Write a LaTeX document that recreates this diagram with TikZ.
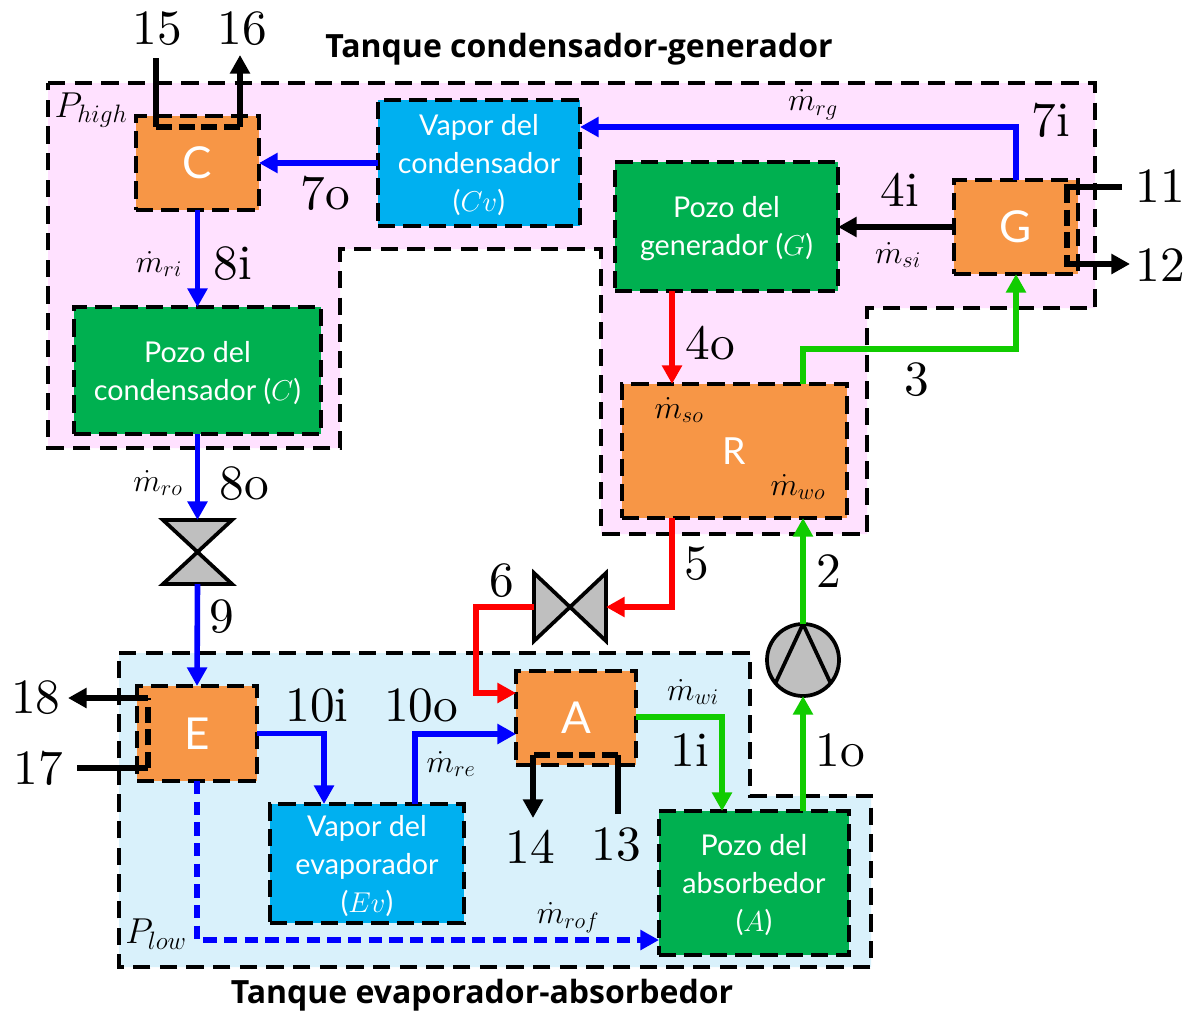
\documentclass[tikz,border=0pt]{standalone}
\usepackage{fix-cm}
\usepackage{fontspec}
\usetikzlibrary{arrows.meta,calc}
\newfontfamily\boxfont{Lato}
\newfontfamily\titlefont{Open Sans}
\newfontfamily\numfont{lmroman10-regular.otf}
\definecolor{tankpink}{HTML}{FFE1FF}
\definecolor{tankblue}{HTML}{D9F1FB}
\definecolor{hxorange}{HTML}{F79646}
\definecolor{wellgreen}{HTML}{00B050}
\definecolor{vapblue}{HTML}{00B0F0}
\definecolor{flowblue}{HTML}{0000FF}
\definecolor{flowred}{HTML}{FF0000}
\definecolor{flowgreen}{HTML}{11CC00}
\definecolor{devgray}{HTML}{BFBFBF}
\newcommand{\bigfs}{\numfont\fontsize{37}{37}\selectfont}
\newcommand{\mfs}{\fontsize{24}{24}\selectfont}
\newcommand{\lowr}{\rule{0pt}{19pt}}
\tikzset{
  x=0.75pt,y=-0.75pt,
  tankline/.style={line width=2.6pt,dash pattern=on 13pt off 7pt},
  unitbox/.style={draw=black,line width=2.8pt,dash pattern=on 13pt off 6pt,inner sep=0pt,outer sep=0pt,text=white,align=center},
  hx/.style={unitbox,fill=hxorange,font=\boxfont\fontsize{33}{33}\selectfont},
  well/.style={unitbox,fill=wellgreen,font=\boxfont\fontsize{21.5}{28.5}\selectfont},
  vapor/.style={unitbox,fill=vapblue,font=\boxfont\fontsize{21.5}{28.5}\selectfont},
  flow/.style={line width=4.2pt,-{Triangle[length=14pt,width=14.5pt]}},
  plainflow/.style={line width=4.2pt},
  fblue/.style={flow,draw=flowblue,color=flowblue},
  fred/.style={flow,draw=flowred,color=flowred},
  fgreen/.style={flow,draw=flowgreen,color=flowgreen},
  fblack/.style={flow,draw=black},
  coilside/.style={line width=4.2pt,dash pattern=on 12pt off 5pt},
  device/.style={draw=black,fill=devgray,line width=2.8pt,line join=miter},
  num/.style={font=\bigfs,inner sep=0pt,text=black},
  sym/.style={font=\mfs,inner sep=0pt,text=black},
  ttl/.style={font=\titlefont\bfseries\fontsize{24}{24}\selectfont,inner sep=0pt,text=black},
  valvebox/.style={inner sep=0pt,outer sep=0pt},
}
\begin{document}
\begin{tikzpicture}
\useasboundingbox (0,0) rectangle (1194,1011);
% tanks
\path[fill=tankpink] (48,83) -- (1095,83) -- (1095,308) -- (867,308) -- (867,534) -- (601,534) -- (601,249) -- (340,249) -- (340,448) -- (48,448) -- cycle;
\draw[tankline] (48,83) -- (1095,83) -- (1095,308) -- (867,308) -- (867,534) -- (601,534) -- (601,249) -- (340,249) -- (340,448) -- (48,448) -- cycle;
\path[fill=tankblue] (119,653) -- (750,653) -- (750,796) -- (871,796) -- (871,967) -- (119,967) -- cycle;
\draw[tankline] (119,653) -- (750,653) -- (750,796) -- (871,796) -- (871,967) -- (119,967) -- cycle;
% units
\node[hx,minimum width=92.25pt,minimum height=70.5pt] (c) at (197.5,163) {C};
\node[vapor,minimum width=151.5pt,minimum height=94.5pt] (cv) at (479,163) {\lowr Vapor del\\condensador\\($Cv$)};
\node[well,minimum width=167.25pt,minimum height=96.75pt] (pg) at (726.5,226.5) {\lowr Pozo del\\generador ($G$)};
\node[hx,minimum width=93pt,minimum height=70.5pt] (g) at (1016,227) {G};
\node[well,minimum width=185.25pt,minimum height=95.25pt] (pc) at (197.5,370.5) {\lowr Pozo del\\condensador ($C$)};
\node[hx,minimum width=168.75pt,minimum height=100.5pt,font=\boxfont\fontsize{28}{28}\selectfont] (r) at (734.5,451) {R};
\node[hx,minimum width=90pt,minimum height=70.5pt] (a) at (576,718) {A};
\node[hx,minimum width=90pt,minimum height=71.25pt] (e) at (197,733.5) {E};
\node[vapor,minimum width=145.5pt,minimum height=89.25pt] (ev) at (367,863.5) {\lowr Vapor del\\evaporador\\($Ev$)};
\node[well,minimum width=142.5pt,minimum height=108pt] (pa) at (754,883) {\lowr Pozo del\\absorbedor\\($A$)};
% valves and pump
\node[valvebox,minimum width=51.75pt,minimum height=48pt] (v1) at (197.5,552) {};
\node[valvebox,minimum width=54pt,minimum height=51pt] (v2) at (570,607) {};
\draw[device] (v1.north west) -- (v1.north east) -- (v1.south west) -- (v1.south east) -- cycle;
\draw[device] (v2.north west) -- (v2.south west) -- (v2.north east) -- (v2.south east) -- cycle;
\node[circle,draw=black,fill=devgray,line width=2.8pt,minimum size=54pt,inner sep=0pt,outer sep=0pt] (p) at (803,660) {};
\draw[line width=2.8pt] (p.220) -- (p.north) -- (p.320);
% ports
\coordinate (cvin) at (cv.east |- 0,127);
\coordinate (cvw) at (cv.west |- c.east);
\coordinate (rin) at (r.north -| 672,0);
\coordinate (rout) at (r.south -| 672,0);
\coordinate (rgo) at (r.north -| 803,0);
\coordinate (rgi) at (r.south -| 803,0);
\coordinate (pge) at (pg.east |- g.west);
\coordinate (ared) at (a.west |- 0,693);
\coordinate (ablue) at (a.west |- 0,734);
\coordinate (agreen) at (a.east |- 0,717);
\coordinate (ebend) at (197,940);
\coordinate (paw) at (pa.west |- ebend);
\coordinate (pagi) at (pa.north -| 722,0);
\coordinate (pago) at (pa.north -| 803,0);
\coordinate (evi) at (ev.north -| 324,0);
\coordinate (evo) at (ev.north -| 415,0);
\coordinate (c15) at (156,58);
\coordinate (c15b) at (156,127);
\coordinate (c16b) at (240,127);
\coordinate (c16) at (240,55);
\coordinate (g11) at (1122,187);
\coordinate (g11b) at (1067,187);
\coordinate (g12b) at (1067,264);
\coordinate (g12) at (1130,264);
\coordinate (e17) at (77,768);
\coordinate (e17b) at (148,768);
\coordinate (e18b) at (148,698);
\coordinate (e18) at (68,698);
\coordinate (a14b) at (533,755);
\coordinate (a14) at (533,818);
\coordinate (a13b) at (618,755);
\coordinate (a13) at (618,814);
% blue circuit
\draw[fblue] (cvw) -- (c.east);
\draw[fblue] (g.north) |- (cvin);
\draw[fblue] (c.south) -- (pc.north);
\draw[fblue] (pc.south) -- (v1.north);
\draw[fblue] (v1.south) -- (e.north);
\draw[fblue] (e.east) -| (evi);
\draw[fblue] (evo) |- (ablue);
\draw[fblue,line width=3.8pt,dash pattern=on 10pt off 5.5pt] (e.south) -- (ebend) -- (paw);
% red circuit
\draw[fred] (pg.south -| rin) -- (rin);
\draw[fred] (rout) |- (v2.east);
\draw[fred] (v2.west) -| (476,650) |- (ared);
% green circuit
\draw[fgreen] (agreen) -| (pagi);
\draw[fgreen] (pago) -- (p.south);
\draw[fgreen] (p.north) -- (rgi);
\draw[fgreen] (rgo) |- ($(g.south)+(0,75)$) -- (g.south);
% black
\draw[fblack] (g.west) -- (pge);
\draw[plainflow] (c15) -- (c15b);
\draw[coilside] (c15b) -- (c16b);
\draw[fblack] (c16b) -- (c16);
\draw[plainflow] (g11) -- (1064,187);
\draw[coilside] (g11b) -- (g12b);
\draw[fblack] (1064,264) -- (g12);
\draw[plainflow] (e17) -- (e17b);
\draw[coilside] (e17b) -- (e18b);
\draw[fblack] (e18b) -- (e18);
\draw[plainflow] (a13) -- (a13b);
\draw[coilside] (a13b) -- (a14b);
\draw[fblack] (a14b) -- (a14);
% titles
\node[ttl] (t1) at (579,49) {Tanque condensador-generador};
\node[ttl] (t2) at (482,995) {Tanque evaporador-absorbedor};
% numbers
\node[num] (n15) at (157,29) {15};
\node[num] (n16) at (242,29) {16};
\node[num] (n7o) at (325,193) {7o};
\node[num] (n7i) at (1051,120) {7i};
\node[num] (n4i) at (900,190) {4i};
\node[num] (n11) at (1160,186) {11};
\node[num] (n12) at (1160,265) {12};
\node[num] (n4o) at (710,343) {4o};
\node[num] (n3) at (917,380) {3};
\node[num] (n8i) at (233,264) {8i};
\node[num] (n8o) at (244,484) {8o};
\node[num] (n9) at (222,617) {9};
\node[num] (n5) at (697,564) {5};
\node[num] (n6) at (502,581) {6};
\node[num] (n2) at (829,571) {2};
\node[num] (n18) at (36,698) {18};
\node[num] (n17) at (38,768) {17};
\node[num] (n10i) at (317,706) {10i};
\node[num] (n10o) at (421,706) {10o};
\node[num] (n1i) at (690,750) {1i};
\node[num] (n1o) at (840,750) {1o};
\node[num] (n14) at (530,847) {14};
\node[num] (n13) at (616,845) {13};
% symbols
\node[sym,font=\fontsize{27}{27}\selectfont] (phigh) at (91,110) {$P_{high}$};
\node[sym,font=\fontsize{27}{27}\selectfont] (plow) at (156,934) {$P_{low}$};
\node[sym] (mrg) at (813,105) {$\dot m_{rg}$};
\node[sym] (msi) at (898,255) {$\dot m_{si}$};
\node[sym] (mso) at (679,410) {$\dot m_{so}$};
\node[sym] (mwo) at (798,487) {$\dot m_{wo}$};
\node[sym] (mri) at (159,264) {$\dot m_{ri}$};
\node[sym] (mro) at (158,483) {$\dot m_{ro}$};
\node[sym] (mre) at (451,764) {$\dot m_{re}$};
\node[sym] (mwi) at (693,692) {$\dot m_{wi}$};
\node[sym] (mrof) at (568,918) {$\dot m_{rof}$};
\end{tikzpicture}
\end{document}
